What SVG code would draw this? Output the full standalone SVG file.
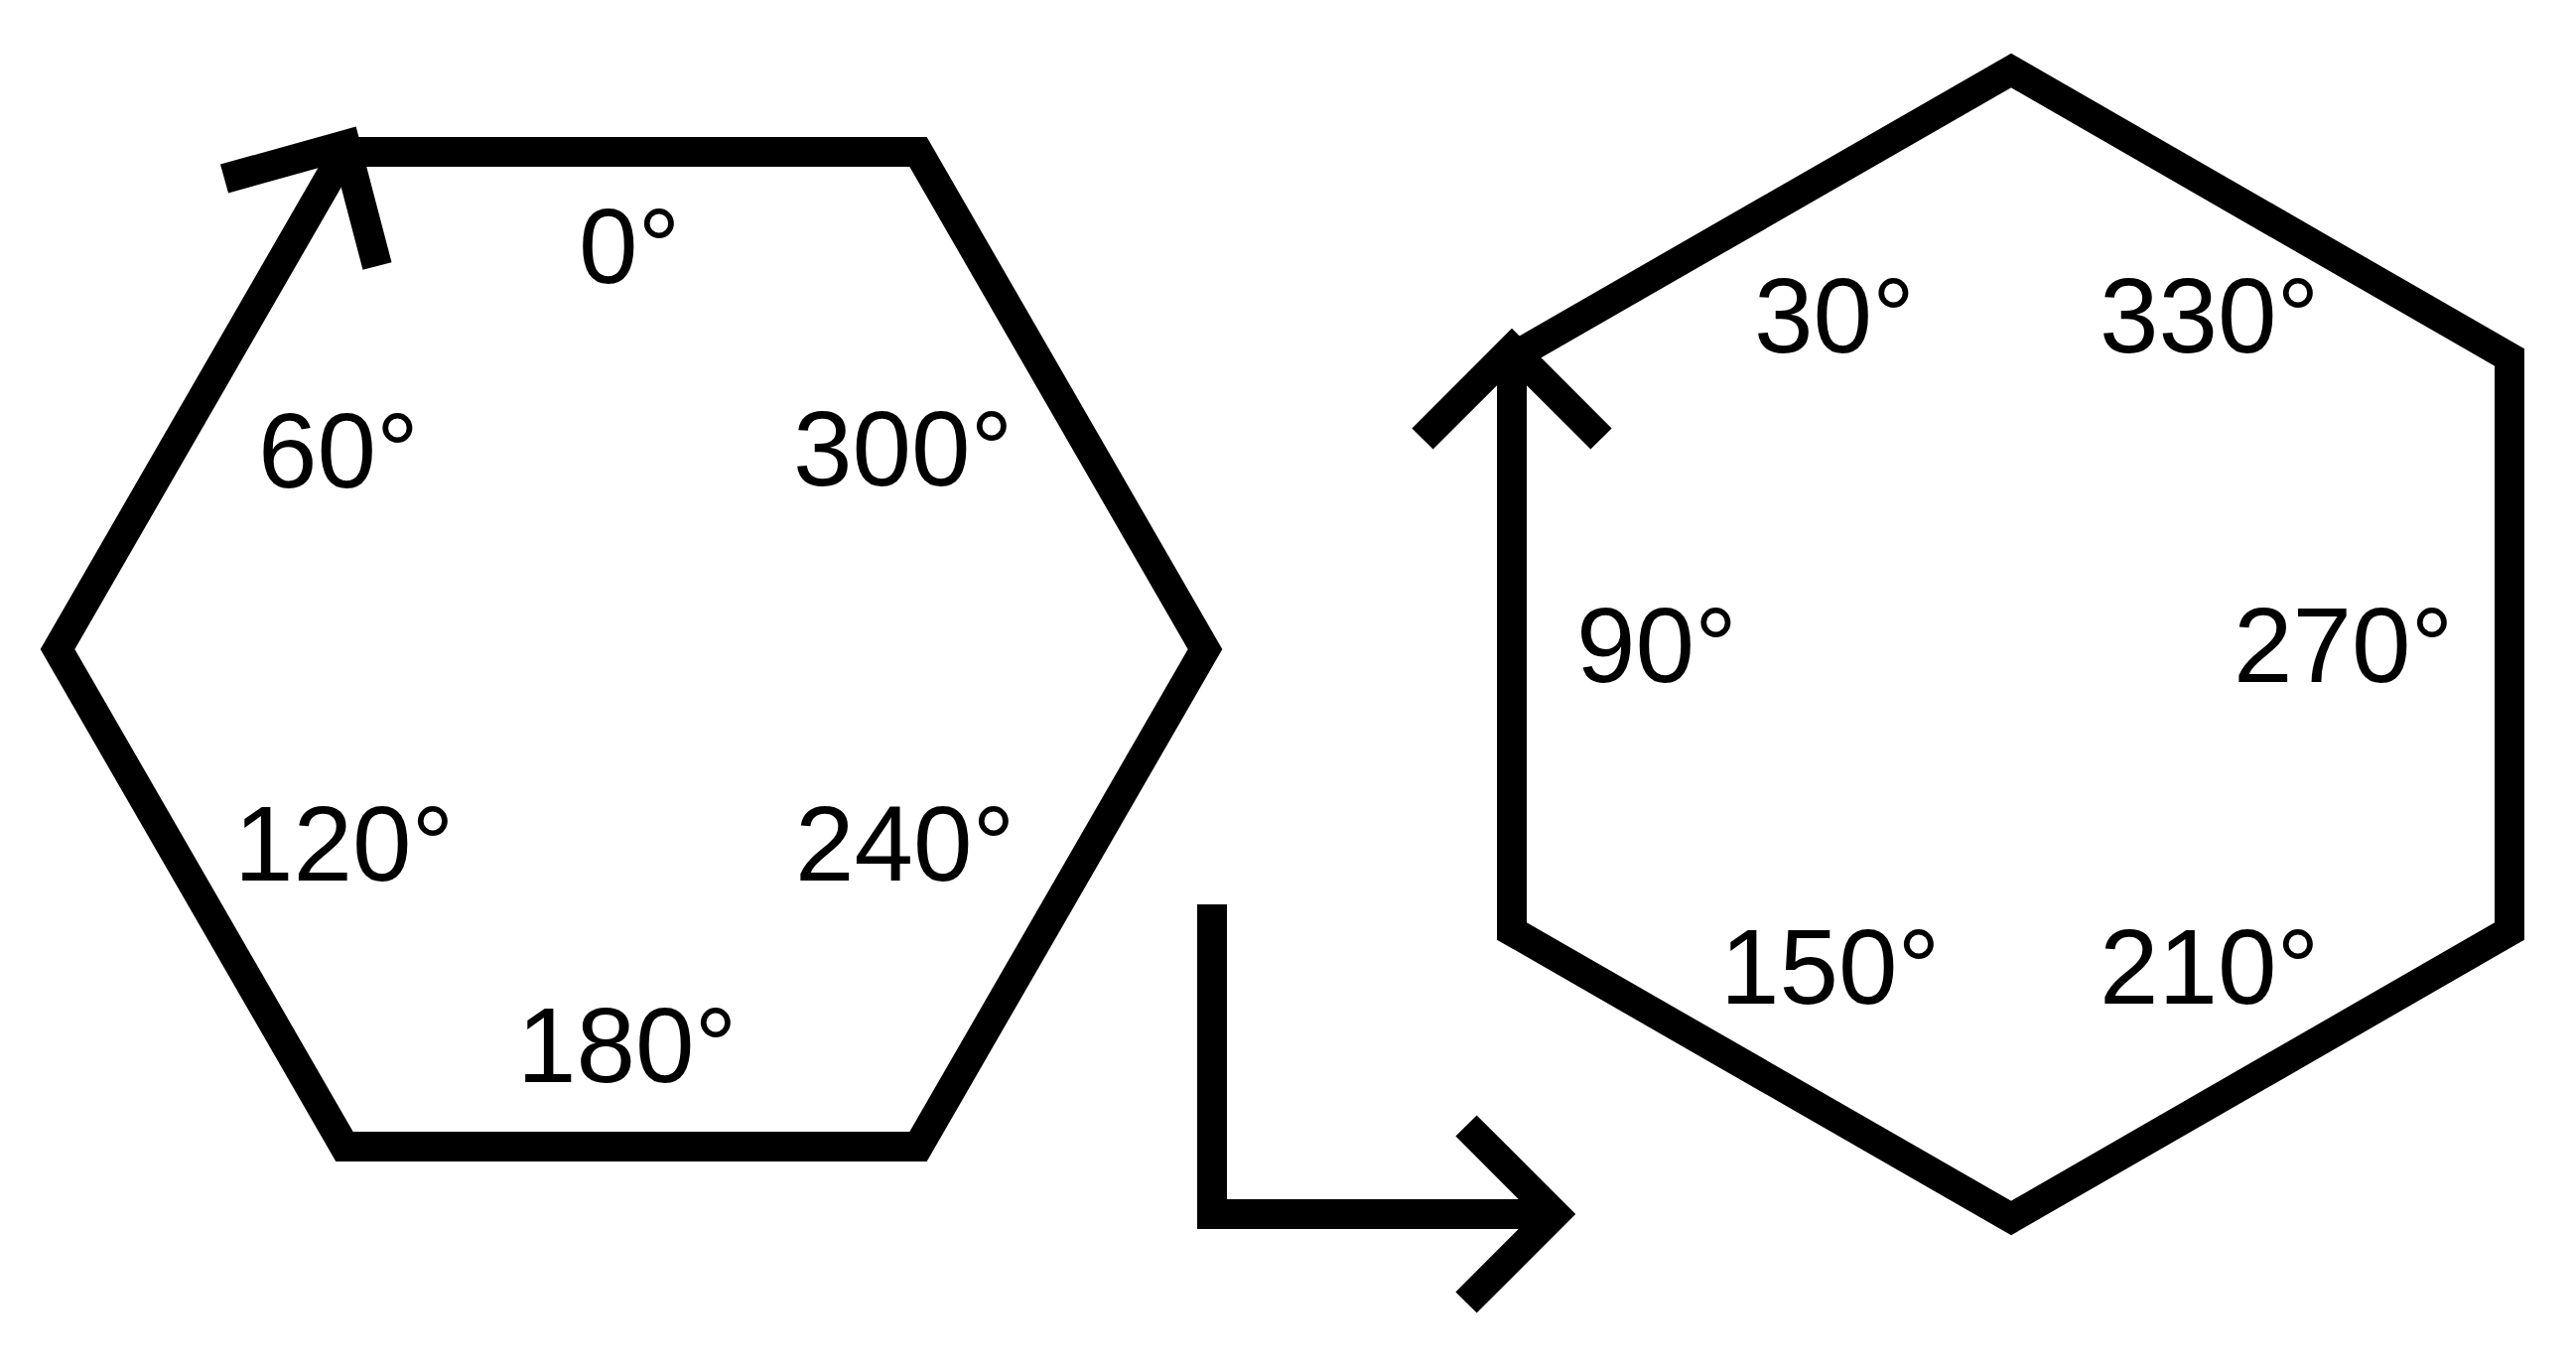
<svg xmlns="http://www.w3.org/2000/svg" width="2595" height="1374" viewBox="0 0 2595 1374">
<style>
.ln{fill:none;stroke:#000;stroke-width:30;stroke-linejoin:miter;stroke-miterlimit:10;stroke-linecap:butt}
.lb{font-family:"Liberation Sans",Arial,sans-serif;font-size:107px;fill:#000}
</style>
<rect width="2595" height="1374" fill="#fff"/>
<g id="hex-left">
<polygon class="ln" points="58,654 347,153 925,153 1214,654 925,1155 347,1155"/>
<polyline class="ln" points="226,180 348,146 380,268"/>
<text class="lb" x="583" y="285">0°</text>
<text class="lb" x="260" y="491">60°</text>
<text class="lb" x="799" y="489">300°</text>
<text class="lb" x="236" y="887">120°</text>
<text class="lb" x="801" y="887">240°</text>
<text class="lb" x="521" y="1090">180°</text>
</g>
<g id="hex-right">
<polygon class="ln" points="2026,71 2528,360 2528,938 2026,1227 1523,938 1523,360"/>
<polyline class="ln" points="1433,442 1523,352 1613,442"/>
<text class="lb" x="1767" y="355">30°</text>
<text class="lb" x="2115" y="355">330°</text>
<text class="lb" x="1588" y="687">90°</text>
<text class="lb" x="2250" y="687">270°</text>
<text class="lb" x="1733" y="1011">150°</text>
<text class="lb" x="2115" y="1011">210°</text>
</g>
<g id="connectors">
<polyline class="ln" points="1221,911 1221,1223 1566,1223"/>
<polyline class="ln" points="1477,1134 1566,1223 1477,1312"/>
</g>
</svg>
